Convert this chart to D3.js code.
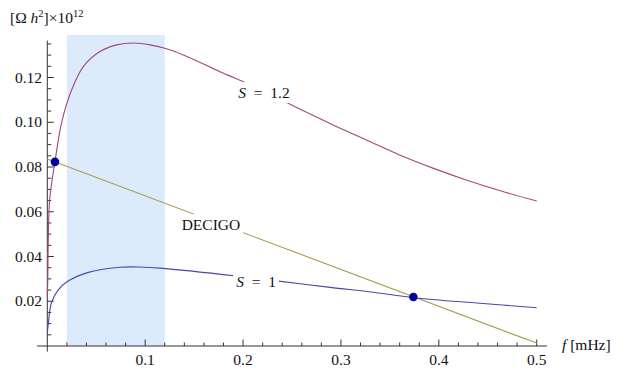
<!DOCTYPE html>
<html>
<head>
<meta charset="utf-8">
<script src="https://d3js.org/d3.v7.min.js"></script>
<style>
  body { margin: 0; background: #fff; }
  text { font-family: "Liberation Serif", "DejaVu Serif", serif; font-size: 15.5px; fill: #111; }
</style>
</head>
<body>
<div id="chart"></div>
<script>
// values: f in mHz, Omega h^2 x 10^12
const s12Freq = [0, 0.0005, 0.001, 0.0024, 0.0078, 0.0147, 0.0249, 0.0368, 0.0538, 0.0709, 0.0879, 0.105, 0.120, 0.139, 0.176, 0.212, 0.258, 0.292, 0.326, 0.360, 0.394, 0.428, 0.462, 0.5];
const s12Vals = [0.022, 0.030, 0.047, 0.0653, 0.0823, 0.100, 0.1145, 0.1249, 0.1316, 0.1346, 0.1354, 0.1346, 0.1331, 0.1301, 0.1227, 0.1158, 0.1059, 0.0988, 0.0921, 0.0854, 0.0795, 0.0742, 0.0695, 0.0648];

const s1Freq = [0, 0.0007, 0.0041, 0.011, 0.0205, 0.041, 0.0743, 0.095, 0.115, 0.193, 0.2326, 0.289, 0.333, 0.374, 0.442, 0.5];
const s1Vals = [0.006, 0.0086, 0.0191, 0.025, 0.0288, 0.0328, 0.0352, 0.0353, 0.0348, 0.0313, 0.0292, 0.0262, 0.024, 0.0216, 0.0191, 0.0171];

const decigoFreq = [0, 0.5];
const decigoVals = [0.0836, 0.0013];

const crossings = [[0.0078, 0.0823], [0.374, 0.0219]];
const band = [0.02, 0.12];

const xMajor = [0.1, 0.2, 0.3, 0.4, 0.5];
const yMajor = [0.02, 0.04, 0.06, 0.08, 0.10, 0.12];

const labels = [
  { parts: [["S", true], [" = 1.2", false]], f: 0.2214, v: 0.1131 },
  { parts: [["DECIGO", false]], f: 0.1672, v: 0.0541 },
  { parts: [["S", true], [" = 1", false]], f: 0.2133, v: 0.0286 }
];

const width = 623, height = 374;

const svg = d3.select("#chart").append("svg")
  .attr("width", width).attr("height", height);

const x = d3.scaleLinear().domain([0, 0.5]).range([47.3, 536.7]);
const y = d3.scaleLinear().domain([0, 0.139]).range([346, 35]);

// shaded band
svg.append("rect")
  .attr("x", x(band[0])).attr("y", y(0.139))
  .attr("width", x(band[1]) - x(band[0]))
  .attr("height", y(0) - y(0.139))
  .attr("fill", "#dcebfc");

// axes
const axisG = svg.append("g").attr("stroke", "#333").attr("stroke-width", 1);
axisG.append("line")
  .attr("x1", x(-0.0105)).attr("x2", x(0.5105))
  .attr("y1", y(0)).attr("y2", y(0));
axisG.append("line")
  .attr("x1", x(0)).attr("x2", x(0))
  .attr("y1", y(-0.0025)).attr("y2", y(0.1365));

const xMinor = d3.range(1, 26).map(i => i * 0.02).filter(d => !xMajor.some(m => Math.abs(m - d) < 1e-6));
axisG.selectAll(".xminor").data(xMinor).join("line")
  .attr("x1", d => x(d)).attr("x2", d => x(d))
  .attr("y1", y(0)).attr("y2", y(0) - 3.5);
axisG.selectAll(".xmajor").data(xMajor).join("line")
  .attr("x1", d => x(d)).attr("x2", d => x(d))
  .attr("y1", y(0)).attr("y2", y(0) - 6.5);

const yMinor = d3.range(1, 28).map(i => i * 0.005).filter(d => !yMajor.some(m => Math.abs(m - d) < 1e-6));
axisG.selectAll(".yminor").data(yMinor).join("line")
  .attr("x1", x(0)).attr("x2", x(0) + 4)
  .attr("y1", d => y(d)).attr("y2", d => y(d));
axisG.selectAll(".ymajor").data(yMajor).join("line")
  .attr("x1", x(0)).attr("x2", x(0) + 6.5)
  .attr("y1", d => y(d)).attr("y2", d => y(d));

svg.selectAll(".xlab").data(xMajor).join("text")
  .attr("x", d => x(d)).attr("y", 365)
  .attr("text-anchor", "middle")
  .text(d => d3.format(".1f")(d));

svg.selectAll(".ylab").data(yMajor).join("text")
  .attr("x", 42).attr("y", d => y(d))
  .attr("dy", "0.33em")
  .attr("text-anchor", "end")
  .text(d => d3.format(".2f")(d));

// curves
const line = d3.line()
  .x(d => x(d[0])).y(d => y(d[1]))
  .curve(d3.curveCatmullRom.alpha(0.5));

const series = [
  { f: decigoFreq, v: decigoVals, color: "#a89a52" },
  { f: s1Freq, v: s1Vals, color: "#4848a6" },
  { f: s12Freq, v: s12Vals, color: "#a0477f" }
];

svg.selectAll(".curve").data(series).join("path")
  .attr("fill", "none")
  .attr("stroke", d => d.color)
  .attr("stroke-width", 1.1)
  .attr("d", d => line(d.f.map((f, i) => [f, d.v[i]])));

// labels on the curves, with a white gap behind
labels.forEach(l => {
  const g = svg.append("g");
  const bg = g.append("rect").attr("fill", "#fff");
  const t = g.append("text")
    .attr("x", x(l.f)).attr("y", y(l.v))
    .attr("dy", "0.33em")
    .attr("text-anchor", "middle");
  l.parts.forEach(p => {
    t.append("tspan")
      .attr("font-style", p[1] ? "italic" : null)
      .text(p[0].replace(/ /g, "\u2002"));
  });
  const b = t.node().getBBox();
  bg.attr("x", b.x - 3).attr("y", b.y - 2)
    .attr("width", b.width + 6).attr("height", b.height + 4);
});

// crossing points
svg.selectAll(".dot").data(crossings).join("circle")
  .attr("cx", d => x(d[0])).attr("cy", d => y(d[1]))
  .attr("r", 4.3)
  .attr("fill", "#00009c");

// axis titles
const yt = svg.append("text").attr("x", 10).attr("y", 23);
yt.append("tspan").text("[\u03A9 ");
yt.append("tspan").attr("font-style", "italic").text("h");
yt.append("tspan").attr("font-size", "10.5px").attr("dy", -6).text("2");
yt.append("tspan").attr("dy", 6).text("]\u00D710");
yt.append("tspan").attr("font-size", "10.5px").attr("dy", -6).text("12");

const xt = svg.append("text").attr("x", 562).attr("y", 350);
xt.append("tspan").attr("font-style", "italic").text("f");
xt.append("tspan").text(" [mHz]");
</script>
</body>
</html>
